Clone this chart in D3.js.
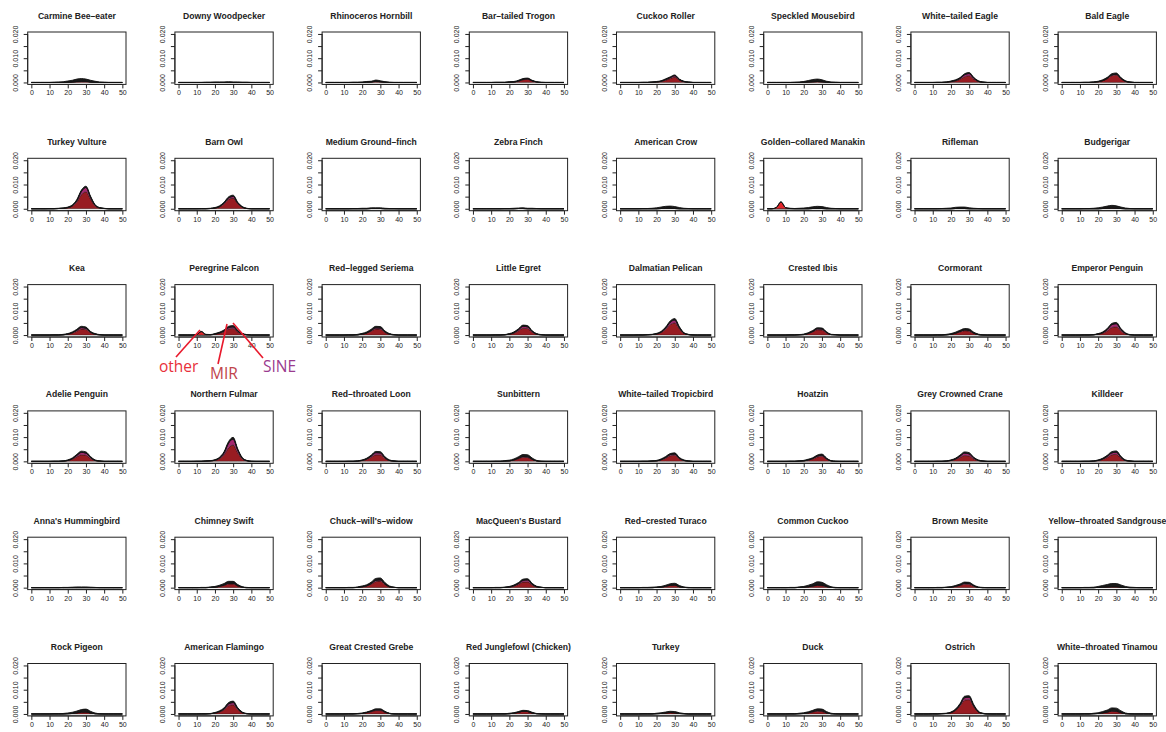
<!DOCTYPE html>
<html>
<head>
<meta charset="utf-8">
<script src="https://cdn.jsdelivr.net/npm/d3@7"></script>
<style>
  body { margin: 0; background: #fff; }
  svg text { font-family: "Liberation Sans", Arial, sans-serif; fill: #222; }
</style>
</head>
<body>
<div id="chart"></div>
<script>
// Especies (orden del panel, fila a fila)
const species = [
  "Carmine Bee\u2013eater", "Downy Woodpecker", "Rhinoceros Hornbill", "Bar\u2013tailed Trogon",
  "Cuckoo Roller", "Speckled Mousebird", "White\u2013tailed Eagle", "Bald Eagle",
  "Turkey Vulture", "Barn Owl", "Medium Ground\u2013finch", "Zebra Finch",
  "American Crow", "Golden\u2013collared Manakin", "Rifleman", "Budgerigar",
  "Kea", "Peregrine Falcon", "Red\u2013legged Seriema", "Little Egret",
  "Dalmatian Pelican", "Crested Ibis", "Cormorant", "Emperor Penguin",
  "Adelie Penguin", "Northern Fulmar", "Red\u2013throated Loon", "Sunbittern",
  "White\u2013tailed Tropicbird", "Hoatzin", "Grey Crowned Crane", "Killdeer",
  "Anna's Hummingbird", "Chimney Swift", "Chuck\u2013will's\u2013widow", "MacQueen's Bustard",
  "Red\u2013crested Turaco", "Common Cuckoo", "Brown Mesite", "Yellow\u2013throated Sandgrouse",
  "Rock Pigeon", "American Flamingo", "Great Crested Grebe", "Red Junglefowl (Chicken)",
  "Turkey", "Duck", "Ostrich", "White\u2013throated Tinamou"
];

// Divergencia (%) de cada punto
const divergence = [0, 2.5, 5, 7.5, 10, 12.5, 15, 17.5, 20, 22.5, 25, 27.5, 30, 32.5, 35, 37.5, 40, 42.5, 45, 47.5, 50];

// Densidades en unidades de 0.0001
const mirValues = [
  [0,0,0,0,0,0,0,0,1,2,3,4,4,2,1,0,0,0,0,0,0],
  [0,0,0,0,0,0,0,0,0,0,0,0,0,0,0,0,0,0,0,0,0],
  [0,0,0,0,0,0,0,0,0,1,2,4,3,1,0,0,0,0,0,0,0],
  [0,0,0,0,0,0,0,0,1,2,5,11,13,6,2,0,0,0,0,0,0],
  [0,0,0,0,0,0,0,1,2,4,9,16,22,10,3,1,0,0,0,0,0],
  [0,0,0,0,0,0,0,0,1,2,3,4,3,1,0,0,0,0,0,0,0],
  [0,0,0,0,0,0,0,1,3,6,13,24,28,14,4,1,0,0,0,0,0],
  [0,0,0,0,0,0,0,1,3,7,15,28,31,15,4,1,0,0,0,0,0],
  [0,0,0,0,0,0,1,2,4,11,28,58,70,40,12,3,1,0,0,0,0],
  [0,0,0,0,0,0,0,1,3,8,20,39,44,21,6,1,0,0,0,0,0],
  [0,0,0,0,0,0,0,0,0,0,1,1,1,0,0,0,0,0,0,0,0],
  [0,0,0,0,0,0,0,0,0,0,1,1,0,0,0,0,0,0,0,0,0],
  [0,0,0,0,0,0,0,0,0,1,2,2,1,0,0,0,0,0,0,0,0],
  [0,0,0,0,0,0,0,0,0,0,1,1,1,0,0,0,0,0,0,0,0],
  [0,0,0,0,0,0,0,0,0,1,1,1,0,0,0,0,0,0,0,0,0],
  [0,0,0,0,0,0,0,0,0,1,2,3,2,1,0,0,0,0,0,0,0],
  [0,0,0,0,0,0,0,1,3,8,16,25,23,10,3,1,0,0,0,0,0],
  [0,0,0,0,0,0,0,1,3,7,14,25,27,13,4,1,0,0,0,0,0],
  [0,0,0,0,0,0,0,1,3,8,16,25,24,11,3,1,0,0,0,0,0],
  [0,0,0,0,0,0,0,1,3,8,17,28,27,12,3,1,0,0,0,0,0],
  [0,0,0,0,0,0,1,2,4,10,24,43,50,26,7,2,0,0,0,0,0],
  [0,0,0,0,0,0,0,1,2,6,13,22,21,9,2,1,0,0,0,0,0],
  [0,0,0,0,0,0,0,1,3,7,13,18,16,7,2,0,0,0,0,0,0],
  [0,0,0,0,0,0,0,1,3,8,17,31,34,17,5,1,0,0,0,0,0],
  [0,0,0,0,0,0,0,1,3,9,19,27,25,12,3,1,0,0,0,0,0],
  [0,0,0,0,0,0,1,2,4,11,27,56,67,36,10,2,0,0,0,0,0],
  [0,0,0,0,0,0,0,1,3,8,17,27,27,12,3,1,0,0,0,0,0],
  [0,0,0,0,0,0,0,1,2,5,11,17,16,8,2,0,0,0,0,0,0],
  [0,0,0,0,0,0,0,1,2,6,13,23,25,11,3,1,0,0,0,0,0],
  [0,0,0,0,0,0,0,1,2,5,10,18,21,9,2,0,0,0,0,0,0],
  [0,0,0,0,0,0,0,1,3,8,16,24,22,10,3,1,0,0,0,0,0],
  [0,0,0,0,0,0,0,1,3,8,16,27,29,13,3,1,0,0,0,0,0],
  [0,0,0,0,0,0,0,0,0,0,0,0,0,0,0,0,0,0,0,0,0],
  [0,0,0,0,0,0,0,1,2,5,9,15,15,7,2,0,0,0,0,0,0],
  [0,0,0,0,0,0,0,1,3,7,14,25,27,13,3,1,0,0,0,0,0],
  [0,0,0,0,0,0,0,1,2,6,13,23,24,11,3,1,0,0,0,0,0],
  [0,0,0,0,0,0,0,0,1,2,5,9,10,4,1,0,0,0,0,0,0],
  [0,0,0,0,0,0,0,1,2,3,6,9,8,4,1,0,0,0,0,0,0],
  [0,0,0,0,0,0,0,1,2,5,9,14,13,6,1,0,0,0,0,0,0],
  [0,0,0,0,0,0,0,0,1,2,3,4,4,2,1,0,0,0,0,0,0],
  [0,0,0,0,0,0,0,0,1,2,4,7,8,4,1,0,0,0,0,0,0],
  [0,0,0,0,0,0,0,1,3,8,17,34,38,18,5,1,0,0,0,0,0],
  [0,0,0,0,0,0,0,1,2,5,9,14,14,7,2,0,0,0,0,0,0],
  [0,0,0,0,0,0,0,0,1,3,7,11,10,4,1,0,0,0,0,0,0],
  [0,0,0,0,0,0,0,0,1,2,4,6,5,2,1,0,0,0,0,0,0],
  [0,0,0,0,0,0,0,1,2,4,8,11,10,4,1,0,0,0,0,0,0],
  [0,0,0,0,0,0,1,2,5,14,33,57,59,30,8,2,0,0,0,0,0],
  [0,0,0,0,0,0,0,1,2,4,7,11,10,5,1,0,0,0,0,0,0]
];

const sineValues = [
  [0,0,0,0,0,0,0,0,0,0,1,1,1,0,0,0,0,0,0,0,0],
  [0,0,0,0,0,0,0,0,0,0,0,0,0,0,0,0,0,0,0,0,0],
  [0,0,0,0,0,0,0,0,0,0,0,1,0,0,0,0,0,0,0,0,0],
  [0,0,0,0,0,0,0,0,0,0,1,2,2,1,0,0,0,0,0,0,0],
  [0,0,0,0,0,0,0,0,0,1,3,4,6,2,1,0,0,0,0,0,0],
  [0,0,0,0,0,0,0,0,0,0,0,0,0,0,0,0,0,0,0,0,0],
  [0,0,0,0,0,0,0,0,1,2,4,8,9,4,1,0,0,0,0,0,0],
  [0,0,0,0,0,0,0,0,0,1,2,3,3,2,1,0,0,0,0,0,0],
  [0,0,0,0,0,0,0,0,1,2,6,14,18,8,3,1,0,0,0,0,0],
  [0,0,0,0,0,0,0,0,0,1,3,6,7,3,1,0,0,0,0,0,0],
  [0,0,0,0,0,0,0,0,0,0,0,0,0,0,0,0,0,0,0,0,0],
  [0,0,0,0,0,0,0,0,0,0,0,0,0,0,0,0,0,0,0,0,0],
  [0,0,0,0,0,0,0,0,0,0,0,0,0,0,0,0,0,0,0,0,0],
  [0,0,0,0,0,0,0,0,0,0,0,0,0,0,0,0,0,0,0,0,0],
  [0,0,0,0,0,0,0,0,0,0,0,0,0,0,0,0,0,0,0,0,0],
  [0,0,0,0,0,0,0,0,0,0,0,0,0,0,0,0,0,0,0,0,0],
  [0,0,0,0,0,0,0,0,1,2,4,6,5,2,1,0,0,0,0,0,0],
  [0,0,0,0,0,0,0,0,1,2,3,6,7,3,1,0,0,0,0,0,0],
  [0,0,0,0,0,0,0,0,1,1,3,5,5,2,1,0,0,0,0,0,0],
  [0,0,0,0,0,0,0,0,1,2,5,8,7,3,1,0,0,0,0,0,0],
  [0,0,0,0,0,0,0,0,1,2,5,10,12,5,1,0,0,0,0,0,0],
  [0,0,0,0,0,0,0,0,0,1,2,4,4,2,0,0,0,0,0,0,0],
  [0,0,0,0,0,0,0,0,0,1,2,3,3,1,0,0,0,0,0,0,0],
  [0,0,0,0,0,0,0,0,1,2,6,12,13,6,2,0,0,0,0,0,0],
  [0,0,0,0,0,0,0,0,1,2,6,10,9,4,1,0,0,0,0,0,0],
  [0,0,0,0,0,0,0,0,1,3,8,20,25,11,3,1,0,0,0,0,0],
  [0,0,0,0,0,0,0,0,1,2,5,9,8,3,1,0,0,0,0,0,0],
  [0,0,0,0,0,0,0,0,0,1,2,3,3,1,0,0,0,0,0,0,0],
  [0,0,0,0,0,0,0,0,0,1,3,5,5,2,1,0,0,0,0,0,0],
  [0,0,0,0,0,0,0,0,0,1,2,4,4,2,0,0,0,0,0,0,0],
  [0,0,0,0,0,0,0,0,1,2,6,10,9,4,1,0,0,0,0,0,0],
  [0,0,0,0,0,0,0,0,1,2,5,8,9,4,1,0,0,0,0,0,0],
  [0,0,0,0,0,0,0,0,0,0,0,0,0,0,0,0,0,0,0,0,0],
  [0,0,0,0,0,0,0,0,0,1,2,3,3,1,0,0,0,0,0,0,0],
  [0,0,0,0,0,0,0,0,1,1,3,5,5,2,1,0,0,0,0,0,0],
  [0,0,0,0,0,0,0,0,1,2,4,7,8,3,1,0,0,0,0,0,0],
  [0,0,0,0,0,0,0,0,0,0,1,1,1,0,0,0,0,0,0,0,0],
  [0,0,0,0,0,0,0,0,0,1,1,2,2,1,0,0,0,0,0,0,0],
  [0,0,0,0,0,0,0,0,0,1,2,4,4,2,0,0,0,0,0,0,0],
  [0,0,0,0,0,0,0,0,0,0,0,0,0,0,0,0,0,0,0,0,0],
  [0,0,0,0,0,0,0,0,0,0,1,1,1,0,0,0,0,0,0,0,0],
  [0,0,0,0,0,0,0,0,1,2,4,8,9,4,1,0,0,0,0,0,0],
  [0,0,0,0,0,0,0,0,0,1,2,3,3,1,0,0,0,0,0,0,0],
  [0,0,0,0,0,0,0,0,0,0,0,0,0,0,0,0,0,0,0,0,0],
  [0,0,0,0,0,0,0,0,0,0,0,0,0,0,0,0,0,0,0,0,0],
  [0,0,0,0,0,0,0,0,0,1,2,3,3,1,0,0,0,0,0,0,0],
  [0,0,0,0,0,0,0,0,1,2,5,10,10,4,1,0,0,0,0,0,0],
  [0,0,0,0,0,0,0,0,0,1,1,2,2,1,0,0,0,0,0,0,0]
];

// Resto de repeticiones (LINE, negro)
const lineValues = [
  [0,0,0,0,0,1,2,3,5,7,10,11,9,7,4,2,1,0,0,0,0],
  [0,0,0,0,0,0,1,1,2,2,2,3,2,2,1,1,0,0,0,0,0],
  [0,0,0,0,0,0,1,1,2,3,3,5,4,2,1,0,0,0,0,0,0],
  [0,0,0,0,0,1,1,1,2,2,3,3,3,2,1,1,0,0,0,0,0],
  [0,0,0,0,0,1,1,1,2,2,3,3,3,2,1,1,0,0,0,0,0],
  [0,0,0,0,0,0,1,2,3,6,9,10,8,4,2,1,0,0,0,0,0],
  [0,0,0,0,0,1,1,1,2,3,3,4,4,3,2,1,0,0,0,0,0],
  [0,0,0,0,0,1,1,1,2,3,4,5,5,3,2,1,0,0,0,0,0],
  [0,0,0,0,1,1,1,1,2,3,4,5,5,4,2,1,1,0,0,0,0],
  [0,0,0,0,0,1,1,1,2,3,4,4,5,3,2,1,0,0,0,0,0],
  [0,0,0,0,0,0,1,1,2,2,3,3,3,2,1,1,0,0,0,0,0],
  [0,0,0,0,0,0,0,1,1,2,2,3,2,2,1,0,0,0,0,0,0],
  [0,0,0,0,0,1,1,2,4,6,8,9,8,5,2,1,0,0,0,0,0],
  [0,0,1,1,1,1,1,2,3,5,7,9,8,5,2,1,0,0,0,0,0],
  [0,0,0,0,0,0,1,2,3,5,6,6,4,2,1,0,0,0,0,0,0],
  [0,0,0,0,0,1,1,2,4,6,9,11,10,6,3,1,0,0,0,0,0],
  [0,0,0,0,0,1,1,2,2,3,4,5,5,3,2,1,0,0,0,0,0],
  [0,0,0,0,1,1,1,1,2,3,4,5,5,4,2,1,0,0,0,0,0],
  [0,0,0,0,0,1,1,2,3,4,5,6,6,4,2,1,0,0,0,0,0],
  [0,0,0,0,0,1,1,1,2,3,4,5,5,3,2,1,0,0,0,0,0],
  [0,0,0,0,1,1,1,1,2,3,4,5,6,4,2,1,1,0,0,0,0],
  [0,0,0,0,0,1,1,1,2,3,4,4,4,3,1,1,0,0,0,0,0],
  [0,0,0,0,0,1,1,2,3,4,5,6,6,4,2,1,0,0,0,0,0],
  [0,0,0,0,0,1,1,1,2,3,4,5,5,4,2,1,0,0,0,0,0],
  [0,0,0,0,0,1,1,1,2,3,4,5,5,4,2,1,0,0,0,0,0],
  [0,0,0,0,1,1,1,1,2,3,5,6,7,5,3,1,1,0,0,0,0],
  [0,0,0,0,0,1,1,1,2,3,4,5,5,4,2,1,0,0,0,0,0],
  [0,0,0,0,0,1,1,2,3,4,6,8,8,5,2,1,0,0,0,0,0],
  [0,0,0,0,0,1,1,1,2,3,4,4,5,3,2,1,0,0,0,0,0],
  [0,0,0,0,0,1,1,1,2,3,3,4,5,3,1,1,0,0,0,0,0],
  [0,0,0,0,0,1,1,1,2,3,4,5,5,3,2,1,0,0,0,0,0],
  [0,0,0,0,0,1,1,1,2,3,4,5,5,4,2,1,0,0,0,0,0],
  [0,0,0,0,0,0,0,1,1,2,3,3,3,2,1,0,0,0,0,0,0],
  [0,0,0,0,0,1,1,2,3,4,6,8,8,5,2,1,0,0,0,0,0],
  [0,0,0,0,0,1,1,2,3,4,6,8,8,6,3,1,0,0,0,0,0],
  [0,0,0,0,0,1,1,1,2,3,4,5,5,4,2,1,0,0,0,0,0],
  [0,0,0,0,0,1,1,2,2,3,4,6,7,5,2,1,0,0,0,0,0],
  [0,0,0,0,0,1,1,2,3,6,9,13,12,7,3,1,0,0,0,0,0],
  [0,0,0,0,0,1,1,1,2,3,4,5,5,3,2,1,0,0,0,0,0],
  [0,0,0,0,0,1,1,2,4,7,10,13,13,9,4,2,1,0,0,0,0],
  [0,0,0,0,0,1,1,2,3,5,7,10,11,7,3,1,0,0,0,0,0],
  [0,0,0,0,0,1,1,1,2,3,4,5,6,4,2,1,0,0,0,0,0],
  [0,0,0,0,0,1,1,1,2,2,3,4,4,3,1,1,0,0,0,0,0],
  [0,0,0,0,0,1,1,1,2,2,3,4,4,3,1,1,0,0,0,0,0],
  [0,0,0,0,0,1,1,1,2,3,4,5,5,3,1,0,0,0,0,0,0],
  [0,0,0,0,0,1,1,2,3,4,5,7,7,5,2,1,0,0,0,0,0],
  [0,0,0,0,1,1,1,1,2,4,5,6,6,5,3,1,1,0,0,0,0],
  [0,0,0,0,0,1,1,2,3,5,8,12,12,7,3,1,0,0,0,0,0]
];

// "other": solo dos especies tienen un pico propio (el resto, vacío)
const otherValues = {
  "Golden\u2013collared Manakin": [0,0,5,28,4,1,0,0,0,0,0,0,0,0,0,0,0,0,0,0,0],
  "Peregrine Falcon":            [0,0,0,0,2,14,2,0,0,0,0,0,0,0,0,0,0,0,0,0,0]
};

const xTicks = [0, 10, 20, 30, 40, 50];
const yTicks = [0, 0.005, 0.01, 0.015, 0.02];
const yLabels = [0, 0.01, 0.02];

// Colores
const COLOR_MIR = '#981c22',
COLOR_SINE = '#a3286f',
COLOR_OTHER = '#e3262b',
COLOR_LINE = '#1a1a1a';

const keys = ['mir', 'sine', 'other', 'line'];
const color = d3.scaleOrdinal().domain(keys).range([COLOR_MIR, COLOR_SINE, COLOR_OTHER, COLOR_LINE]);

const width = 1166, height = 732;
const colStep = 147.2, rowStep = 126.3;
const boxW = 98.3, boxH = 52.4;

let svg = d3.select('#chart').append('svg')
    .attr('width', width)
    .attr('height', height);

const stack = d3.stack().keys(keys);

species.forEach(function(name, i) {
    let col = i % 8, row = Math.floor(i / 8);
    let left = 27.7 + col * colStep, top = 32 + row * rowStep;

    let x = d3.scaleLinear().domain([-2, 52]).range([0, boxW]);
    let y = d3.scaleLinear().domain([-0.0008, 0.0208]).range([boxH, 0]);

    let other = otherValues[name] || [];
    let table = divergence.map(function(d, j) {
        return {
            x: d,
            mir: mirValues[i][j] / 10000,
            sine: sineValues[i][j] / 10000,
            other: (other[j] || 0) / 10000,
            line: lineValues[i][j] / 10000
        };
    });

    let g = svg.append('g')
        .attr('transform', 'translate(' + left + ',' + top + ')');

    let area = d3.area()
        .curve(d3.curveMonotoneX)
        .x(function(d) { return x(d.data.x); })
        .y0(function(d) { return y(d[0]); })
        .y1(function(d) { return y(d[1]); });

    let layers = stack(table);

    g.selectAll('path.layer')
        .data(layers)
        .enter()
        .append('path')
        .attr('class', 'layer')
        .attr('d', area)
        .attr('fill', function(d) { return color(d.key); })
        .attr('stroke', '#111')
        .attr('stroke-width', function(d) { return d.key == 'line' ? 0.9 : 0.4; })
        .attr('stroke-linejoin', 'round');

    // caja
    g.append('rect')
        .attr('width', boxW)
        .attr('height', boxH)
        .attr('fill', 'none')
        .attr('stroke', '#222')
        .attr('stroke-width', 1);

    // eje X
    let xAxis = d3.axisBottom(x).tickValues(xTicks).tickSize(4).tickPadding(2);
    g.append('g')
        .attr('transform', 'translate(0,' + boxH + ')')
        .call(xAxis)
        .call(function(a) {
            a.select('.domain').attr('stroke', '#222').attr('d', 'M' + x(0) + ',0H' + x(50));
            a.selectAll('.tick line').attr('stroke', '#222');
            a.selectAll('text').style('font-size', '7px').attr('fill', '#222');
        });

    // eje Y
    let yAxis = d3.axisLeft(y).tickValues(yTicks).tickSize(4)
        .tickFormat(function(d) { return yLabels.indexOf(d) >= 0 ? d3.format('.3f')(d) : ''; });
    g.append('g')
        .call(yAxis)
        .call(function(a) {
            a.select('.domain').attr('stroke', '#222').attr('d', 'M0,' + y(0) + 'V' + y(0.02));
            a.selectAll('.tick line').attr('stroke', '#222');
            a.selectAll('text')
                .style('font-size', '7px')
                .attr('fill', '#222')
                .attr('text-anchor', 'middle')
                .attr('x', 0).attr('dy', 0)
                .attr('transform', 'translate(-10,0) rotate(-90)');
        });

    // título
    g.append('text')
        .attr('x', boxW / 2)
        .attr('y', -13.5)
        .attr('text-anchor', 'middle')
        .style('font-size', '8.6px')
        .style('font-weight', '700')
        .text(name);
});

// Anotaciones (panel Peregrine Falcon)
const notes = [
    { label: 'other', color: '#e8303a', tx: 159, ty: 371.5, x1: 176, y1: 357, x2: 200, y2: 330 },
    { label: 'MIR',   color: '#c0434b', tx: 210, ty: 379,   x1: 218, y1: 364, x2: 227, y2: 324 },
    { label: 'SINE',  color: '#9a3b8e', tx: 263, ty: 371.5, x1: 263, y1: 358, x2: 233, y2: 323 }
];

svg.selectAll('line.note')
    .data(notes)
    .enter()
    .append('line')
    .attr('class', 'note')
    .attr('x1', function(d) { return d.x1; })
    .attr('y1', function(d) { return d.y1; })
    .attr('x2', function(d) { return d.x2; })
    .attr('y2', function(d) { return d.y2; })
    .attr('stroke', '#e8192c')
    .attr('stroke-width', 1.6);

svg.selectAll('text.note')
    .data(notes)
    .enter()
    .append('text')
    .attr('class', 'note')
    .attr('x', function(d) { return d.tx; })
    .attr('y', function(d) { return d.ty; })
    .style('font-family', '"Open Sans", sans-serif')
    .style('font-size', '15.5px')
    .style('fill', function(d) { return d.color; })
    .text(function(d) { return d.label; });
</script>
</body>
</html>
